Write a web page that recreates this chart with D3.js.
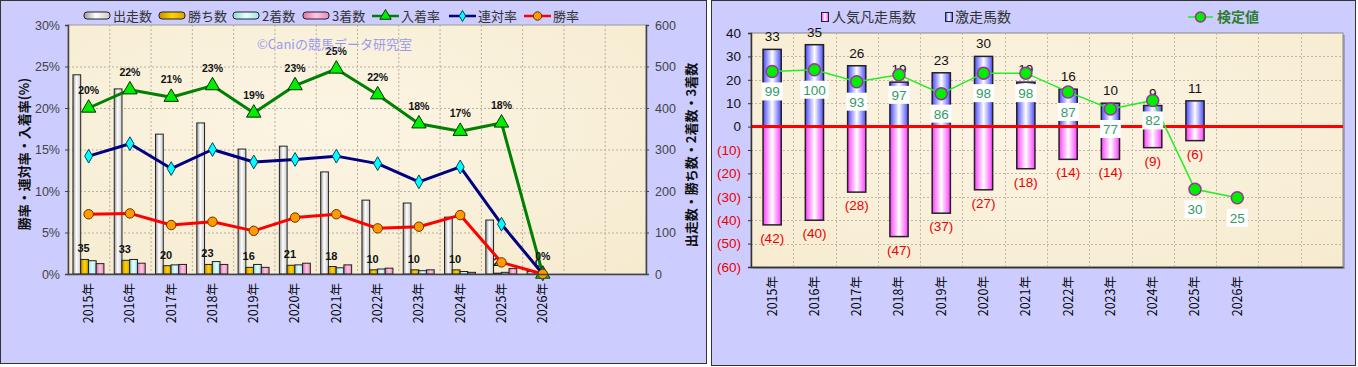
<!DOCTYPE html>
<html><head><meta charset="utf-8">
<script src="https://cdn.jsdelivr.net/npm/d3@7"></script>
<style>body{margin:0;background:#fff;} svg{display:block;}</style>
</head><body><svg id="c" width="1358" height="367"></svg>
<script>
// ---------- data ----------
const years = ["2015年","2016年","2017年","2018年","2019年","2020年","2021年","2022年","2023年","2024年","2025年","2026年"];
const starts  = [480,446,337,364,301,308,246,178,171,137,130,6];
const wins    = [35,33,20,23,16,21,18,10,10,10,2,0];
const seconds = [32,35,22,30,23,22,15,12,8,6,4,0];
const thirds  = [25,26,23,23,16,26,22,14,10,4,13,0];
const placeRate  = [20.0,22.2,21.3,22.7,19.4,22.7,24.7,21.6,18.1,17.2,18.2,0];
const rentaiRate = [14.2,15.7,12.7,15.0,13.5,13.8,14.2,13.3,11.1,12.9,6.0,0];
const winRate    = [7.2,7.3,5.9,6.3,5.2,6.8,7.2,5.5,5.7,7.1,1.4,0];
const pctTicks = [0,5,10,15,20,25,30];
const cntTicks = [0,100,200,300,400,500,600];

const popularFails = [42,40,28,47,37,27,18,14,14,9,6,null];
const surges       = [33,35,26,19,23,30,19,16,10,9,11,null];
const scores       = [99,100,93,97,86,98,98,87,77,82,30,25];
const rTicks = [-60,-50,-40,-30,-20,-10,0,10,20,30,40];

// ---------- setup ----------
const svg = d3.select("#c");
const FONT = "'Liberation Sans','Noto Sans CJK JP',sans-serif";
const JFONT = "'Noto Sans CJK JP','Liberation Sans',sans-serif";
const defs = svg.append("defs");
function hgrad(id, stops){
  const g = defs.append("linearGradient").attr("id",id).attr("x1","0").attr("x2","1").attr("y1","0").attr("y2","0");
  stops.forEach(s=>g.append("stop").attr("offset",s[0]).attr("stop-color",s[1]));
}
hgrad("gWhite",[[0,"#9a9a9a"],[0.45,"#ffffff"],[1,"#c8c8c8"]]);
hgrad("gGold",[[0,"#c89000"],[0.5,"#ffd400"],[1,"#e0a000"]]);
hgrad("gCyan",[[0,"#8adada"],[0.5,"#e6ffff"],[1,"#9ee6e6"]]);
hgrad("gPink",[[0,"#e070aa"],[0.5,"#ffc8e4"],[1,"#e888c0"]]);
hgrad("gBlue",[[0,"#4a4aff"],[0.5,"#ffffff"],[1,"#4a4aff"]]);
hgrad("gMag",[[0,"#ff3cff"],[0.5,"#ffffff"],[1,"#ff3cff"]]);
const pg = defs.append("radialGradient").attr("id","paper").attr("cx","0.45").attr("cy","0.4").attr("r","0.8");
pg.append("stop").attr("offset",0).attr("stop-color","#fcf5e4");
pg.append("stop").attr("offset",1).attr("stop-color","#f6ebcf");

// panels
svg.append("rect").attr("x",0.5).attr("y",0.5).attr("width",706).attr("height",363).attr("fill","#ccccff").attr("stroke","#333");
svg.append("rect").attr("x",711.5).attr("y",0.5).attr("width",644).attr("height",365).attr("fill","#ccccff").attr("stroke","#333");

const slots = d3.range(14);

// =============== LEFT CHART ===============
const L = {x0:68, x1:646, y0:25, y1:274};
const xL = d3.scaleBand().domain(slots).range([L.x0,L.x1]);
const yPct = d3.scaleLinear().domain([0,30]).range([L.y1,L.y0]);
const yCnt = d3.scaleLinear().domain([0,600]).range([L.y1,L.y0]);
const seriesNames = ["出走数","勝ち数","2着数","3着数"];
const seriesVals = [starts,wins,seconds,thirds];
const seriesFill = ["url(#gWhite)","url(#gGold)","url(#gCyan)","url(#gPink)"];
const bwL = xL.bandwidth();
const sub = d3.scaleBand().domain(seriesNames).range([bwL*0.12, bwL*0.87]);

svg.append("rect").attr("x",L.x0).attr("y",L.y0).attr("width",L.x1-L.x0).attr("height",L.y1-L.y0).attr("fill","url(#paper)").attr("stroke","#999");
const gl = svg.append("g");
gl.selectAll("line.h").data(pctTicks.slice(1,-1)).join("line")
  .attr("x1",L.x0).attr("x2",L.x1).attr("y1",d=>yPct(d)+0.5).attr("y2",d=>yPct(d)+0.5)
  .attr("stroke","#b8b0a0").attr("stroke-dasharray","2,2");
gl.selectAll("line.v").data(slots.slice(1)).join("line")
  .attr("x1",d=>xL(d)+0.5).attr("x2",d=>xL(d)+0.5).attr("y1",L.y0).attr("y2",L.y1)
  .attr("stroke","#b8b0a0").attr("stroke-dasharray","2,2");

// bars
seriesNames.forEach((s,si)=>{
  svg.append("g").selectAll("rect").data(seriesVals[si]).join("rect")
    .attr("x",(d,i)=>xL(i)+sub(s))
    .attr("y",d=>yCnt(d))
    .attr("width",sub.bandwidth())
    .attr("height",d=>L.y1-yCnt(d))
    .attr("fill",seriesFill[si]).attr("stroke","#222").attr("stroke-width",1);
});
// win count labels
svg.append("g").selectAll("text").data(wins).join("text")
  .attr("x",(d,i)=>xL(i)+sub("勝ち数")+sub.bandwidth()/2-1)
  .attr("y",d=>yCnt(d)-7)
  .attr("text-anchor","middle").attr("font-family",FONT).attr("font-size",11).attr("font-weight","bold").attr("fill","#111")
  .text(d=>d);

// lines
function drawLine(vals, color, sym, symSize, fill, stroke){
  const line = d3.line().x((d,i)=>xL(i)+bwL/2).y(d=>yPct(d));
  svg.append("path").datum(vals).attr("d",line).attr("fill","none").attr("stroke",color).attr("stroke-width",3).attr("stroke-linejoin","round");
  svg.append("g").selectAll("path").data(vals).join("path")
    .attr("transform",(d,i)=>`translate(${xL(i)+bwL/2},${yPct(d)})`)
    .attr("d",d3.symbol().type(sym).size(symSize))
    .attr("fill",fill).attr("stroke",stroke).attr("stroke-width",1);
}
drawLine(placeRate,"#008000",d3.symbolTriangle,90,"#00ee00","#003300");
drawLine(rentaiRate,"#000080",d3.symbolDiamond,55,"#00ffff","#004466");
drawLine(winRate,"#ff0000",d3.symbolCircle,70,"#ff9900","#663300");
svg.append("g").selectAll("text").data(placeRate).join("text")
  .attr("x",(d,i)=>xL(i)+bwL/2).attr("y",d=>yPct(d)-14)
  .attr("text-anchor","middle").attr("font-family",FONT).attr("font-size",10.5).attr("font-weight","bold").attr("fill","#111")
  .text(d=>Math.round(d)+"%");

// axes
const axL = svg.append("g").attr("transform",`translate(${L.x0},0)`)
  .call(d3.axisLeft(yPct).tickValues(pctTicks).tickFormat(d=>d+"%").tickSize(3));
const axR = svg.append("g").attr("transform",`translate(${L.x1},0)`)
  .call(d3.axisRight(yCnt).tickValues(cntTicks).tickSize(3));
const axB = svg.append("g").attr("transform",`translate(0,${L.y1})`)
  .call(d3.axisBottom(xL).tickSize(0).tickFormat(i=>years[i]||""));
[axL,axR,axB].forEach(a=>{a.selectAll("path.domain").attr("stroke","#444").attr("stroke-width",1.5); a.selectAll(".tick line").attr("stroke","#444");});
[axL,axR].forEach(a=>a.selectAll("text").attr("font-family",FONT).attr("font-size",12.5).attr("fill","#444"));
axL.selectAll("text").attr("x",-8);
axR.selectAll("text").attr("x",9);
axB.selectAll("text").attr("font-family",JFONT).attr("font-size",12.5).attr("fill","#000")
  .attr("transform","rotate(-90)").attr("text-anchor","end").attr("dy","0.35em").attr("x",-9).attr("y",0);

// axis titles
svg.append("text").attr("transform","translate(24,154) rotate(-90)").attr("text-anchor","middle")
  .attr("font-family",JFONT).attr("font-size",13).attr("font-weight","bold").attr("fill","#111").attr("dy","0.35em")
  .text("勝率・連対率・入着率(%)");
svg.append("text").attr("transform","translate(691,155) rotate(-90)").attr("text-anchor","middle")
  .attr("font-family",JFONT).attr("font-size",13).attr("font-weight","bold").attr("fill","#111").attr("dy","0.35em")
  .text("出走数・勝ち数・2着数・3着数");
// watermark
svg.append("text").attr("x",257).attr("y",49).attr("font-family",JFONT).attr("font-size",13).attr("fill","#9a9af0")
  .text("©Caniの競馬データ研究室");

// legend left
const legBars = [[84,"出走数","url(#gWhite)"],[159,"勝ち数","url(#gGold)"],[233,"2着数","url(#gCyan)"],[303,"3着数","url(#gPink)"]];
legBars.forEach(([x,t,f])=>{
  svg.append("rect").attr("x",x).attr("y",12).attr("width",26).attr("height",7).attr("rx",3).attr("fill",f).attr("stroke","#222");
  svg.append("text").attr("x",x+29).attr("y",16).attr("dy","0.35em").attr("font-family",JFONT).attr("font-size",13).attr("fill","#333").text(t);
});
const legLines = [[372,"入着率","#008000",d3.symbolTriangle,55,"#00ee00","#003300"],[449,"連対率","#000080",d3.symbolDiamond,35,"#00ffff","#004466"],[524,"勝率","#ff0000",d3.symbolCircle,55,"#ff9900","#663300"]];
legLines.forEach(([x,t,c,sym,sz,f,s])=>{
  svg.append("line").attr("x1",x).attr("x2",x+27).attr("y1",16).attr("y2",16).attr("stroke",c).attr("stroke-width",2.5);
  svg.append("path").attr("transform",`translate(${x+13.5},16)`).attr("d",d3.symbol().type(sym).size(sz)).attr("fill",f).attr("stroke",s);
  svg.append("text").attr("x",x+29).attr("y",16).attr("dy","0.35em").attr("font-family",JFONT).attr("font-size",13).attr("fill","#333").text(t);
});

// =============== RIGHT CHART ===============
const R = {x0:751, x1:1343, y0:33, y1:267};
const xR = d3.scaleBand().domain(slots).range([R.x0,R.x1]);
const bwR = xR.bandwidth();
const yR = d3.scaleLinear().domain([-60,40]).range([R.y1,R.y0]);
const yScore = d3.scaleLinear().domain([-15.5,121.5]).range([R.y1,R.y0]);

svg.append("rect").attr("x",R.x0+2).attr("y",R.y0+2).attr("width",R.x1-R.x0).attr("height",R.y1-R.y0).attr("fill","#a0a0c8");
svg.append("rect").attr("x",R.x0).attr("y",R.y0).attr("width",R.x1-R.x0).attr("height",R.y1-R.y0).attr("fill","url(#paper)").attr("stroke","#888");
const gr = svg.append("g");
gr.selectAll("line.h").data(rTicks.slice(1,-1)).join("line")
  .attr("x1",R.x0).attr("x2",R.x1).attr("y1",d=>Math.round(yR(d))+0.5).attr("y2",d=>Math.round(yR(d))+0.5)
  .attr("stroke","#c0b8a8").attr("stroke-dasharray","2,2");
gr.selectAll("line.v").data(slots.slice(1)).join("line")
  .attr("x1",d=>Math.round(xR(d))+0.5).attr("x2",d=>Math.round(xR(d))+0.5).attr("y1",R.y0).attr("y2",R.y1)
  .attr("stroke","#c0b8a8").attr("stroke-dasharray","2,2");

const bwBar = bwR*0.43;
const surgeData = surges.map((v,i)=>({v,i})).filter(d=>d.v!==null);
const failData = popularFails.map((v,i)=>({v,i})).filter(d=>d.v!==null);
svg.append("g").selectAll("rect").data(failData).join("rect")
  .attr("x",d=>xR(d.i)+(bwR-bwBar)/2).attr("y",yR(0)).attr("width",bwBar).attr("height",d=>yR(-d.v)-yR(0))
  .attr("fill","url(#gMag)").attr("stroke","#222").attr("stroke-width",1.5);
svg.append("g").selectAll("rect").data(surgeData).join("rect")
  .attr("x",d=>xR(d.i)+(bwR-bwBar)/2).attr("y",d=>yR(d.v)).attr("width",bwBar).attr("height",d=>yR(0)-yR(d.v))
  .attr("fill","url(#gBlue)").attr("stroke","#222").attr("stroke-width",1.5);
// zero line
svg.append("line").attr("x1",R.x0).attr("x2",R.x1).attr("y1",yR(0)).attr("y2",yR(0)).attr("stroke","#ff0000").attr("stroke-width",3);
// bar labels
svg.append("g").selectAll("text").data(surgeData).join("text")
  .attr("x",d=>xR(d.i)+bwR/2).attr("y",d=>yR(d.v)-8)
  .attr("text-anchor","middle").attr("font-family",FONT).attr("font-size",13.5).attr("fill","#111").text(d=>d.v);
svg.append("g").selectAll("text").data(failData).join("text")
  .attr("x",d=>xR(d.i)+bwR/2).attr("y",d=>yR(-d.v)+18)
  .attr("text-anchor","middle").attr("font-family",FONT).attr("font-size",13.5).attr("fill","#ee0000").text(d=>"("+d.v+")");
// score line
const sLine = d3.line().x((d,i)=>xR(i)+bwR/2).y(d=>yScore(d));
svg.append("path").datum(scores).attr("d",sLine).attr("fill","none").attr("stroke","#22ee22").attr("stroke-width",1.5);
svg.append("g").selectAll("circle").data(scores).join("circle")
  .attr("cx",(d,i)=>xR(i)+bwR/2).attr("cy",d=>yScore(d)).attr("r",6)
  .attr("fill","#00ee00").attr("stroke","#993399").attr("stroke-width",1.5);
const sl = svg.append("g").selectAll("g").data(scores).join("g")
  .attr("transform",(d,i)=>`translate(${xR(i)+bwR/2},${yScore(d)+20})`);
sl.append("rect").attr("x",d=>-(String(d).length*7.5+6)/2).attr("y",-9).attr("width",d=>String(d).length*7.5+6).attr("height",18).attr("fill","#fff");
sl.append("text").attr("text-anchor","middle").attr("dy","0.36em").attr("font-family",FONT).attr("font-size",13.5).attr("fill","#339966").text(d=>d);

// axes right chart
const arL = svg.append("g").attr("transform",`translate(${R.x0},0)`)
  .call(d3.axisLeft(yR).tickValues(rTicks).tickSize(3).tickFormat(d=>d<0?"("+(-d)+")":d));
arL.select("path.domain").attr("stroke","#333").attr("stroke-width",1.5);
arL.selectAll(".tick line").attr("stroke","#333");
arL.selectAll("text").attr("font-family",FONT).attr("font-size",13.5).attr("x",-10).attr("fill",d=>d<0?"#ee0000":"#111");
const arB = svg.append("g").attr("transform",`translate(0,${R.y1})`)
  .call(d3.axisBottom(xR).tickSize(0).tickFormat(i=>years[i]||""));
arB.select("path.domain").attr("stroke","#333").attr("stroke-width",1.5);
arB.selectAll("text").attr("font-family",JFONT).attr("font-size",12.5).attr("fill","#000")
  .attr("transform","rotate(-90)").attr("text-anchor","end").attr("dy","0.35em").attr("x",-9).attr("y",0);

// legend right
svg.append("rect").attr("x",821.5).attr("y",12.5).attr("width",7).attr("height",9).attr("fill","url(#gMag)").attr("stroke","#222");
svg.append("text").attr("x",832).attr("y",17).attr("dy","0.35em").attr("font-family",JFONT).attr("font-size",14).attr("fill","#333").text("人気凡走馬数");
svg.append("rect").attr("x",945.5).attr("y",12.5).attr("width",7).attr("height",9).attr("fill","url(#gBlue)").attr("stroke","#222");
svg.append("text").attr("x",955).attr("y",17).attr("dy","0.35em").attr("font-family",JFONT).attr("font-size",14).attr("fill","#333").text("激走馬数");
svg.append("line").attr("x1",1188).attr("x2",1213).attr("y1",17).attr("y2",17).attr("stroke","#22ee22").attr("stroke-width",1.5);
svg.append("circle").attr("cx",1200.5).attr("cy",17).attr("r",5).attr("fill","#00ee00").attr("stroke","#993399").attr("stroke-width",1.5);
svg.append("text").attr("x",1217).attr("y",17).attr("dy","0.35em").attr("font-family",JFONT).attr("font-size",14).attr("font-weight","bold").attr("fill","#2e7d32").text("検定値");
</script></body></html>
